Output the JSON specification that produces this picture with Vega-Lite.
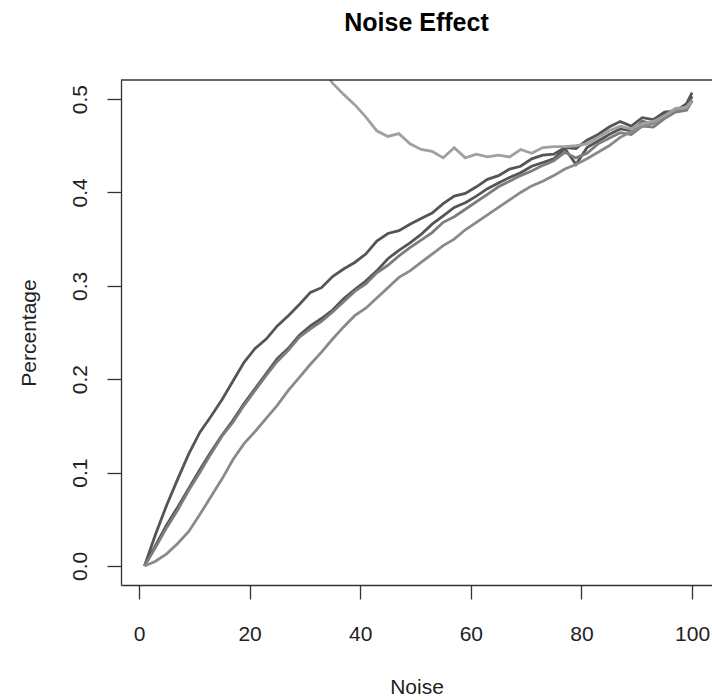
{
  "$schema": "https://vega.github.io/schema/vega-lite/v6.json",
  "width": 591,
  "height": 505,
  "autosize": {"type": "none"},
  "padding": {"left": 121, "top": 80, "right": 0, "bottom": 115},
  "background": "white",
  "config": {
    "view": {"stroke": null},
    "font": "Liberation Sans",
    "axis": {
      "grid": false,
      "domainColor": "#333333",
      "tickColor": "#333333",
      "labelColor": "#222222",
      "titleColor": "#222222",
      "labelFont": "Liberation Sans",
      "titleFont": "Liberation Sans",
      "labelFontSize": 21,
      "titleFontSize": 21,
      "titleFontWeight": "normal",
      "tickSize": 14,
      "domainWidth": 1.3,
      "tickWidth": 1.3
    }
  },
  "title": {
    "text": "Noise Effect",
    "fontSize": 25,
    "fontWeight": "bold",
    "font": "Liberation Sans",
    "anchor": "middle",
    "baseline": "alphabetic",
    "offset": 23,
    "color": "black"
  },
  "layer": [
    {
      "data": {
        "values": [
          {"x": 1, "A": 0.000, "B": 0.000, "C": 0.000, "D": 0.000, "E": null},
          {"x": 3, "A": 0.034, "B": 0.022, "C": 0.020, "D": 0.005, "E": null},
          {"x": 5, "A": 0.065, "B": 0.044, "C": 0.041, "D": 0.013, "E": null},
          {"x": 7, "A": 0.093, "B": 0.063, "C": 0.060, "D": 0.024, "E": null},
          {"x": 9, "A": 0.120, "B": 0.083, "C": 0.081, "D": 0.037, "E": null},
          {"x": 11, "A": 0.143, "B": 0.103, "C": 0.100, "D": 0.055, "E": null},
          {"x": 13, "A": 0.160, "B": 0.122, "C": 0.120, "D": 0.074, "E": null},
          {"x": 15, "A": 0.178, "B": 0.140, "C": 0.139, "D": 0.093, "E": null},
          {"x": 17, "A": 0.198, "B": 0.156, "C": 0.154, "D": 0.114, "E": null},
          {"x": 19, "A": 0.218, "B": 0.174, "C": 0.172, "D": 0.131, "E": null},
          {"x": 21, "A": 0.233, "B": 0.190, "C": 0.188, "D": 0.144, "E": null},
          {"x": 23, "A": 0.243, "B": 0.206, "C": 0.204, "D": 0.158, "E": null},
          {"x": 25, "A": 0.257, "B": 0.222, "C": 0.219, "D": 0.172, "E": null},
          {"x": 27, "A": 0.268, "B": 0.233, "C": 0.231, "D": 0.188, "E": null},
          {"x": 29, "A": 0.280, "B": 0.247, "C": 0.245, "D": 0.202, "E": 0.575},
          {"x": 31, "A": 0.293, "B": 0.257, "C": 0.254, "D": 0.216, "E": 0.555},
          {"x": 33, "A": 0.298, "B": 0.265, "C": 0.262, "D": 0.229, "E": 0.535},
          {"x": 35, "A": 0.310, "B": 0.274, "C": 0.272, "D": 0.243, "E": 0.517},
          {"x": 37, "A": 0.318, "B": 0.286, "C": 0.283, "D": 0.256, "E": 0.505},
          {"x": 39, "A": 0.325, "B": 0.296, "C": 0.294, "D": 0.268, "E": 0.494},
          {"x": 41, "A": 0.334, "B": 0.305, "C": 0.302, "D": 0.276, "E": 0.481},
          {"x": 43, "A": 0.348, "B": 0.316, "C": 0.314, "D": 0.287, "E": 0.466},
          {"x": 45, "A": 0.356, "B": 0.329, "C": 0.322, "D": 0.298, "E": 0.460},
          {"x": 47, "A": 0.359, "B": 0.338, "C": 0.332, "D": 0.309, "E": 0.463},
          {"x": 49, "A": 0.366, "B": 0.346, "C": 0.341, "D": 0.316, "E": 0.452},
          {"x": 51, "A": 0.372, "B": 0.355, "C": 0.349, "D": 0.325, "E": 0.446},
          {"x": 53, "A": 0.378, "B": 0.366, "C": 0.357, "D": 0.334, "E": 0.444},
          {"x": 55, "A": 0.388, "B": 0.375, "C": 0.368, "D": 0.343, "E": 0.437},
          {"x": 57, "A": 0.396, "B": 0.384, "C": 0.374, "D": 0.350, "E": 0.448},
          {"x": 59, "A": 0.399, "B": 0.389, "C": 0.382, "D": 0.360, "E": 0.437},
          {"x": 61, "A": 0.406, "B": 0.396, "C": 0.390, "D": 0.368, "E": 0.441},
          {"x": 63, "A": 0.414, "B": 0.404, "C": 0.398, "D": 0.376, "E": 0.438},
          {"x": 65, "A": 0.418, "B": 0.410, "C": 0.406, "D": 0.384, "E": 0.440},
          {"x": 67, "A": 0.425, "B": 0.416, "C": 0.412, "D": 0.392, "E": 0.438},
          {"x": 69, "A": 0.428, "B": 0.421, "C": 0.418, "D": 0.400, "E": 0.446},
          {"x": 71, "A": 0.436, "B": 0.428, "C": 0.423, "D": 0.407, "E": 0.442},
          {"x": 73, "A": 0.440, "B": 0.432, "C": 0.429, "D": 0.412, "E": 0.448},
          {"x": 75, "A": 0.441, "B": 0.436, "C": 0.434, "D": 0.418, "E": 0.449},
          {"x": 77, "A": 0.448, "B": 0.447, "C": 0.443, "D": 0.425, "E": 0.449},
          {"x": 79, "A": 0.447, "B": 0.430, "C": 0.437, "D": 0.430, "E": 0.450},
          {"x": 81, "A": 0.456, "B": 0.448, "C": 0.442, "D": 0.436, "E": 0.452},
          {"x": 83, "A": 0.462, "B": 0.455, "C": 0.452, "D": 0.443, "E": 0.459},
          {"x": 85, "A": 0.470, "B": 0.462, "C": 0.458, "D": 0.450, "E": 0.466},
          {"x": 87, "A": 0.476, "B": 0.468, "C": 0.464, "D": 0.459, "E": 0.471},
          {"x": 89, "A": 0.471, "B": 0.466, "C": 0.462, "D": 0.465, "E": 0.468},
          {"x": 91, "A": 0.480, "B": 0.476, "C": 0.471, "D": 0.471, "E": 0.474},
          {"x": 93, "A": 0.478, "B": 0.474, "C": 0.470, "D": 0.474, "E": 0.476},
          {"x": 95, "A": 0.486, "B": 0.484, "C": 0.479, "D": 0.482, "E": 0.482},
          {"x": 97, "A": 0.487, "B": 0.489, "C": 0.486, "D": 0.488, "E": 0.490},
          {"x": 99, "A": 0.495, "B": 0.492, "C": 0.488, "D": 0.492, "E": 0.491},
          {"x": 100, "A": 0.507, "B": 0.503, "C": 0.498, "D": 0.499, "E": 0.497}
        ]
      },
      "transform": [{"fold": ["A", "B", "C", "D", "E"], "as": ["series", "y"]}],
      "mark": {"type": "line", "clip": true, "strokeWidth": 2.8, "interpolate": "linear"},
      "encoding": {
        "x": {
          "field": "x",
          "type": "quantitative",
          "scale": {"domain": [-3.25, 103.6], "nice": false, "zero": false},
          "axis": {
            "values": [0, 20, 40, 60, 80, 100],
            "title": "Noise",
            "labelPadding": 24,
            "titlePadding": 32,
            "labelFlush": false
          }
        },
        "y": {
          "field": "y",
          "type": "quantitative",
          "scale": {"domain": [-0.0204, 0.5204], "nice": false, "zero": false},
          "axis": {
            "values": [0, 0.1, 0.2, 0.3, 0.4, 0.5],
            "format": ".1f",
            "labelAngle": -90,
            "title": "Percentage",
            "labelPadding": 17,
            "titlePadding": 30,
            "labelFlush": false
          }
        },
        "color": {
          "field": "series",
          "type": "nominal",
          "scale": {
            "domain": ["A", "B", "C", "D", "E"],
            "range": ["#555555", "#555555", "#7d7d7d", "#8a8a8a", "#a0a0a0"]
          },
          "legend": null
        }
      }
    },
    {
      "data": {"values": [{}]},
      "mark": {"type": "rule", "color": "#333333", "strokeWidth": 1.3},
      "encoding": {"y": {"datum": 0.5204}}
    }
  ]
}
